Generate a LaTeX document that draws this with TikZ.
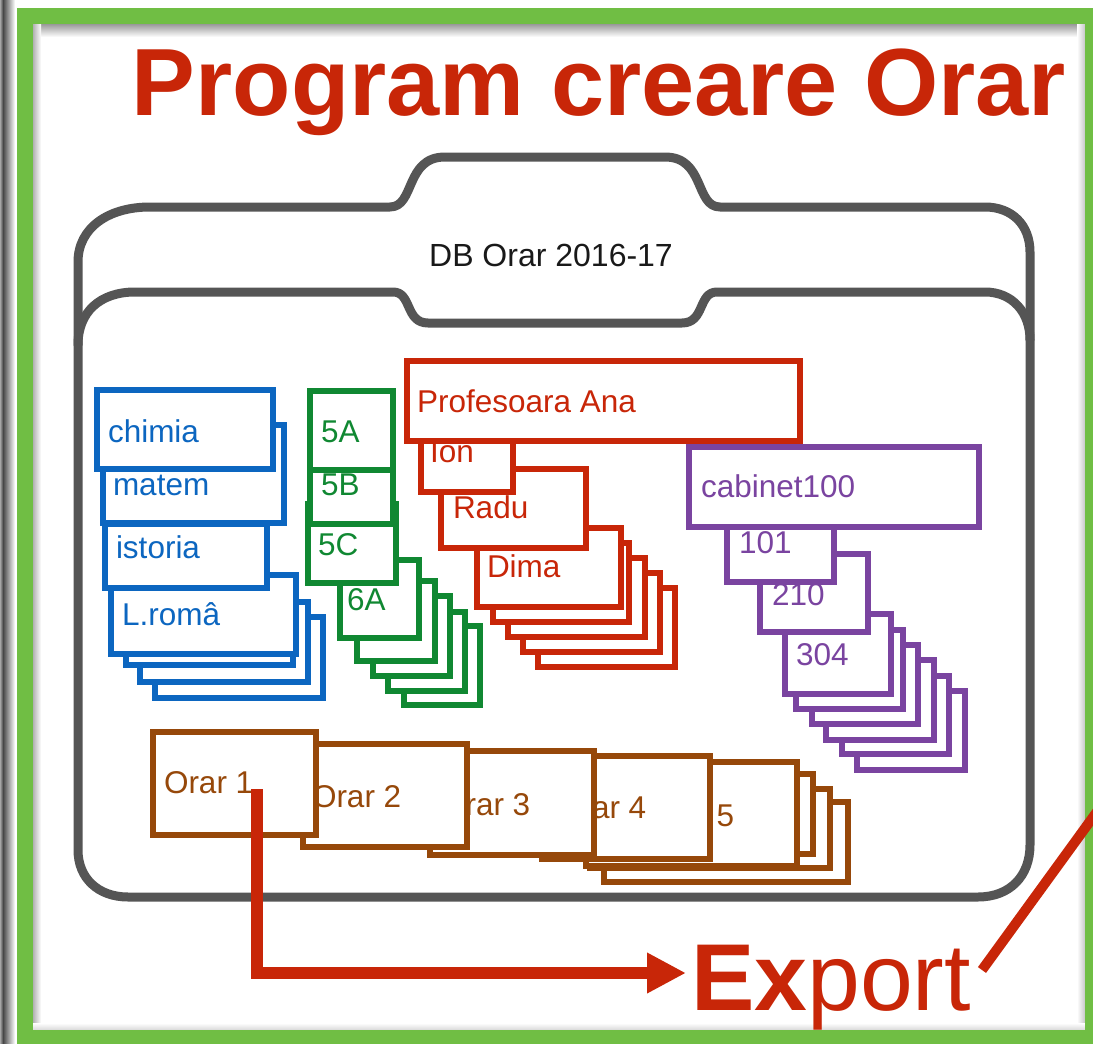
\documentclass[tikz,border=0pt]{standalone}
\usepackage{fontspec}
\setmainfont{Liberation Sans}
\usetikzlibrary{arrows.meta}
\definecolor{cframe}{RGB}{112,190,68}
\definecolor{cred}{RGB}{200,38,8}
\definecolor{cblue}{RGB}{12,102,192}
\definecolor{cgreen}{RGB}{16,136,50}
\definecolor{cpurple}{RGB}{122,68,160}
\definecolor{cbrown}{RGB}{150,72,10}
\definecolor{cfolder}{RGB}{85,85,85}
\newcommand\bxk[6]{\node[#2box, anchor=north west, minimum width={(#5-#3)*1pt}, minimum height={(#6-#4)*1pt}] (#1) at (#3,#4) {};}
\newcommand\bxt[9]{\bxk{#1}{#2}{#3}{#4}{#5}{#6}\node[#2lbl, anchor=base west] (#1-t) at (#7,#8) {#9};}
\tikzset{
  boxbase/.style={shape=rectangle, fill=white, line width=5.5pt, inner sep=0pt, outer sep=0pt},
  lblbase/.style={inner sep=0pt, outer sep=0pt, font=\fontsize{31.5}{31.5}\selectfont},
  blubox/.style={boxbase, draw=cblue}, blulbl/.style={lblbase, text=cblue},
  grnbox/.style={boxbase, draw=cgreen}, grnlbl/.style={lblbase, text=cgreen},
  redbox/.style={boxbase, draw=cred}, redlbl/.style={lblbase, text=cred},
  purbox/.style={boxbase, draw=cpurple}, purlbl/.style={lblbase, text=cpurple},
  brnbox/.style={boxbase, draw=cbrown}, brnlbl/.style={lblbase, text=cbrown},
  folder/.style={draw=cfolder, line width=9pt, line cap=round, line join=round},
  bigred/.style={inner sep=0pt, outer sep=0pt, text=cred, font=\fontsize{95}{95}\selectfont},
}
\begin{document}
\begin{tikzpicture}[x=1pt, y=-1pt]
\useasboundingbox (0,0) rectangle (1093,1044);
\clip (0,0) rectangle (1093,1044);
\fill[white] (0,0) rectangle (1093,1044);
% left grey band
\shade[left color=black!35, right color=black!72] (0,0) rectangle (3,1044);
\shade[left color=black!72, right color=white] (3,0) rectangle (15,1044);
% inner shadows of frame
\shade[top color=black!40, bottom color=white] (33,24) rectangle (1085,37);
\shade[left color=black!30, right color=white] (33,24) rectangle (41,1030);
\shade[left color=white, right color=black!22] (1077,24) rectangle (1085,1030);
\shade[top color=white, bottom color=black!15] (33,1023) rectangle (1085,1030);
% green frame
\draw[cframe, line width=16pt] (25,16) rectangle (1093,1038);
% title
\node[bigred, font=\fontsize{95.5}{95.5}\selectfont\bfseries, anchor=base] (title) at (599,115) {Program creare Orar};
% folder
\draw[folder] (78,850) -- (78,262) .. controls (78,228) and (108,207) .. (150,207) -- (390,207)
  .. controls (415,207) and (405,157) .. (445,157) -- (665,157)
  .. controls (705,157) and (695,207) .. (720,207) -- (985,207)
  .. controls (1012,207) and (1030,225) .. (1030,252) -- (1030,845)
  .. controls (1030,876) and (1010,897) .. (978,897) -- (128,897)
  .. controls (98,897) and (78,878) .. (78,850) -- cycle;
\draw[folder] (78,345) .. controls (78,312) and (100,292) .. (135,292) -- (393,292)
  .. controls (412,292) and (405,323) .. (428,323) -- (682,323)
  .. controls (705,323) and (698,292) .. (717,292) -- (985,292)
  .. controls (1012,292) and (1030,312) .. (1030,340);
\node[inner sep=0pt, text=black!90, font=\fontsize{32}{32}\selectfont, anchor=base] (dbname) at (551,266) {DB Orar 2016-17};
% blue stack
\bxk{b4}{blu}{155}{617}{323}{698}
\bxk{b3}{blu}{140}{602}{308}{682}
\bxk{b2}{blu}{126}{590}{293}{665}
\bxt{lroma}{blu}{111}{575}{296}{654}{122}{625}{L.româ}
\bxt{matem}{blu}{103}{425}{284}{523}{113}{495}{matem}
\bxt{istoria}{blu}{105}{524}{267}{588}{116}{558}{istoria}
\bxt{chimia}{blu}{97}{390}{273}{469}{108}{442}{chimia}
% green stack
\bxk{g4}{grn}{404}{626}{480}{705}
\bxk{g3}{grn}{388}{612}{465}{691}
\bxk{g2}{grn}{373}{596}{450}{676}
\bxk{g1}{grn}{357}{581}{435}{661}
\bxt{sixa}{grn}{340}{560}{419}{638}{347}{610}{6A}
\bxt{fivec}{grn}{308}{504}{396}{583}{318}{555}{5C}
\bxt{fiveb}{grn}{310}{450}{393}{524}{321}{495}{5B}
\bxt{fivea}{grn}{310}{391}{393}{470}{321}{442}{5A}
% red stack
\bxk{r4}{red}{538}{588}{675}{667}
\bxk{r3}{red}{523}{573}{660}{652}
\bxk{r2}{red}{508}{558}{645}{637}
\bxk{r1}{red}{493}{543}{629}{622}
\bxt{dima}{red}{477}{528}{621}{607}{487}{577}{Dima}
\bxt{radu}{red}{441}{469}{586}{548}{453}{518}{Radu}
\bxt{ion}{red}{421}{420}{513}{492}{430}{462}{Ion}
\bxt{ana}{red}{407}{361}{800}{441}{417}{412}{Profesoara Ana}
% purple stack
\bxk{p5}{pur}{857}{691}{965}{770}
\bxk{p4}{pur}{842}{676}{949}{754}
\bxk{p3}{pur}{826}{660}{934}{740}
\bxk{p2}{pur}{812}{645}{918}{724}
\bxk{p1}{pur}{796}{630}{903}{709}
\bxt{rm304}{pur}{785}{614}{891}{694}{796}{665}{304}
\bxt{rm210}{pur}{760}{554}{868}{632}{772}{605}{210}
\bxt{rm101}{pur}{727}{500}{834}{582}{739}{553}{101}
\bxt{cab}{pur}{689}{447}{979}{527}{701}{497}{cabinet100}
% brown stack
\bxk{o8}{brn}{604}{802}{848}{882}
\bxk{o7}{brn}{590}{789}{830}{868}
\bxk{o6}{brn}{600}{774}{813}{854}
\bxt{o5}{brn}{586}{762}{797}{866}{645}{826}{Orar 5}
\bxt{o4}{brn}{542}{756}{710}{859}{557}{818}{Orar 4}
\bxt{o3}{brn}{430}{751}{594}{855}{441}{815}{Orar 3}
\bxt{o2}{brn}{303}{744}{467}{847}{312}{807}{Orar 2}
\bxt{o1}{brn}{153}{732}{316}{835}{164}{793}{Orar 1}
% export
\node[bigred, anchor=base] (export) at (831,1010) {\textbf{Ex}port};
\coordinate (o1src) at (256.5,789);
\coordinate (expin) at (686,973);
\draw[cred, line width=12pt, -{Triangle[length=39pt,width=38pt]}] (o1src) |- (expin);
\coordinate (expout) at (982,970);
\coordinate (offright) at (1120,780);
\draw[cred, line width=10pt] (expout) -- (offright);
\end{tikzpicture}
\end{document}
